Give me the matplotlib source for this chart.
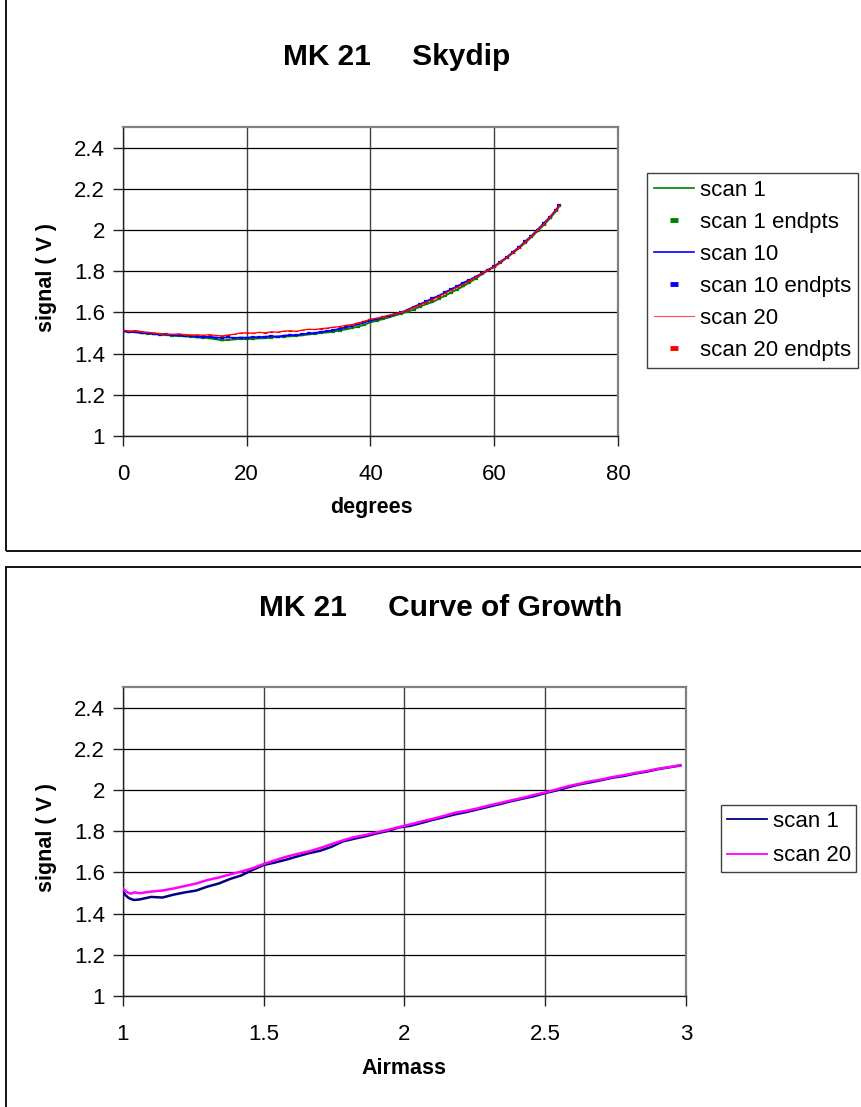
import matplotlib
matplotlib.use("Agg")
import matplotlib.pyplot as plt
from matplotlib.patches import Rectangle
from matplotlib.lines import Line2D

plt.rcParams['font.family'] = ['Liberation Sans', 'DejaVu Sans']

# ---------------- data: Skydip ----------------
degrees = list(range(71)) + [70.5]

scan1 = [1.508, 1.504, 1.506, 1.499, 1.497, 1.494, 1.493, 1.490, 1.487, 1.485,
         1.484, 1.481, 1.479, 1.476, 1.474, 1.470, 1.464, 1.467, 1.469, 1.471,
         1.470, 1.472, 1.474, 1.475, 1.478, 1.480, 1.482, 1.484, 1.486, 1.489,
         1.493, 1.496, 1.500, 1.503, 1.507, 1.512, 1.518, 1.524, 1.531, 1.540,
         1.552, 1.559, 1.568, 1.576, 1.585, 1.594, 1.603, 1.614, 1.628, 1.640,
         1.650, 1.665, 1.680, 1.696, 1.711, 1.727, 1.745, 1.764, 1.785, 1.804,
         1.821, 1.842, 1.864, 1.888, 1.911, 1.938, 1.965, 1.994, 2.024, 2.056,
         2.092, 2.115]

scan10 = [1.511, 1.506, 1.504, 1.501, 1.499, 1.497, 1.492, 1.494, 1.489, 1.488,
          1.486, 1.487, 1.483, 1.481, 1.482, 1.478, 1.477, 1.479, 1.476, 1.478,
          1.477, 1.480, 1.479, 1.482, 1.484, 1.483, 1.487, 1.490, 1.489, 1.494,
          1.498, 1.500, 1.505, 1.509, 1.513, 1.521, 1.527, 1.535, 1.542, 1.551,
          1.561, 1.566, 1.576, 1.583, 1.592, 1.600, 1.613, 1.627, 1.640, 1.653,
          1.668, 1.680, 1.697, 1.712, 1.726, 1.744, 1.757, 1.774, 1.789, 1.807,
          1.823, 1.846, 1.867, 1.893, 1.916, 1.945, 1.971, 2.002, 2.033, 2.063,
          2.099, 2.120]

scan20 = [1.514, 1.509, 1.512, 1.507, 1.503, 1.500, 1.497, 1.495, 1.493, 1.496,
          1.492, 1.490, 1.491, 1.489, 1.492, 1.488, 1.486, 1.490, 1.494, 1.500,
          1.501, 1.499, 1.503, 1.501, 1.506, 1.504, 1.509, 1.511, 1.508, 1.514,
          1.518, 1.517, 1.521, 1.524, 1.528, 1.531, 1.537, 1.541, 1.549, 1.557,
          1.567, 1.572, 1.579, 1.586, 1.594, 1.601, 1.612, 1.624, 1.637, 1.650,
          1.662, 1.677, 1.692, 1.707, 1.722, 1.736, 1.754, 1.771, 1.790, 1.806,
          1.822, 1.844, 1.866, 1.890, 1.915, 1.942, 1.970, 2.000, 2.030, 2.062,
          2.097, 2.119]

skydip_labels = ['scan 1', 'scan 1 endpts', 'scan 10', 'scan 10 endpts',
                 'scan 20', 'scan 20 endpts']

# ---------------- data: Curve of Growth ----------------
airmass = [1.00, 1.01, 1.02, 1.03, 1.04, 1.06, 1.10, 1.14, 1.18, 1.22,
           1.26, 1.30, 1.34, 1.38, 1.42, 1.46, 1.50, 1.54, 1.58, 1.62,
           1.66, 1.70, 1.74, 1.78, 1.82, 1.86, 1.90, 1.94, 1.98, 2.02,
           2.06, 2.10, 2.14, 2.18, 2.22, 2.26, 2.30, 2.34, 2.38, 2.42,
           2.46, 2.50, 2.54, 2.58, 2.62, 2.66, 2.70, 2.74, 2.78, 2.82,
           2.86, 2.90, 2.94, 2.98]

cog_scan1 = [1.505, 1.488, 1.476, 1.470, 1.466, 1.469, 1.481, 1.478, 1.492, 1.503,
             1.512, 1.531, 1.546, 1.568, 1.585, 1.612, 1.636, 1.648, 1.662, 1.678,
             1.693, 1.705, 1.724, 1.750, 1.763, 1.775, 1.789, 1.801, 1.818, 1.826,
             1.840, 1.855, 1.868, 1.882, 1.893, 1.906, 1.919, 1.932, 1.946, 1.958,
             1.970, 1.985, 1.998, 2.013, 2.027, 2.037, 2.048, 2.060, 2.068, 2.080,
             2.089, 2.101, 2.110, 2.119]

cog_scan20 = [1.522, 1.508, 1.500, 1.497, 1.503, 1.499, 1.507, 1.512, 1.522, 1.534,
              1.546, 1.563, 1.575, 1.590, 1.604, 1.620, 1.641, 1.659, 1.676, 1.690,
              1.702, 1.718, 1.737, 1.755, 1.771, 1.781, 1.794, 1.806, 1.820, 1.833,
              1.847, 1.860, 1.874, 1.890, 1.899, 1.911, 1.925, 1.937, 1.950, 1.962,
              1.976, 1.988, 2.003, 2.018, 2.030, 2.042, 2.051, 2.063, 2.072, 2.083,
              2.092, 2.103, 2.111, 2.121]

cog_labels = ['scan 1', 'scan 20']

yticks = [1, 1.2, 1.4, 1.6, 1.8, 2, 2.2, 2.4]
ytick_labels = ['1', '1.2', '1.4', '1.6', '1.8', '2', '2.2', '2.4']

# ---------------- figure ----------------
W, H = 862, 1107
fig = plt.figure(figsize=(W / 100, H / 100), dpi=100)


def fx(px):
    return px / W


def fy(py):
    return 1 - py / H


# panel borders
fig.add_artist(Rectangle((fx(6), fy(551)), fx(870) - fx(6), fy(-5) - fy(551),
                         transform=fig.transFigure, fill=False,
                         edgecolor='black', linewidth=1.3))
fig.add_artist(Rectangle((fx(6), fy(1120)), fx(870) - fx(6), fy(567) - fy(1120),
                         transform=fig.transFigure, fill=False,
                         edgecolor='black', linewidth=1.3))

TICK_FS = 16
LEG_FS = 16
LAB_FS = 15.5


def style_axes(ax, xticks, xticklabels, xlim):
    ax.set_xlim(*xlim)
    ax.set_ylim(1, 2.5)
    ax.set_xticks(xticks)
    ax.set_xticklabels(xticklabels)
    ax.set_yticks(yticks)
    ax.set_yticklabels(ytick_labels)
    for s in ax.spines.values():
        s.set_color('#808080')
        s.set_linewidth(1.6)
    ax.spines['left'].set_color('#202020')
    ax.spines['left'].set_linewidth(1.0)
    ax.spines['bottom'].set_color('#202020')
    ax.spines['bottom'].set_linewidth(1.0)
    ax.tick_params(axis='both', direction='out', length=7, width=1,
                   color='#202020', labelsize=TICK_FS)
    ax.tick_params(axis='x', pad=13)
    ax.tick_params(axis='y', pad=6)
    ax.grid(True, axis='y', color='black', linewidth=0.9)
    ax.grid(True, axis='x', color='#404040', linewidth=1.0)
    ax.set_axisbelow(True)


# ---------------- top: Skydip ----------------
ax1 = fig.add_axes([fx(123), fy(436), fx(618) - fx(123), fy(127) - fy(436)])
style_axes(ax1, [0, 20, 40, 60, 80], ['0', '20', '40', '60', '80'], (0, 80))

colors_top = ['#008000', '#0000FF', '#FF0000']
series_top = [scan1, scan10, scan20]
handles = []
for i, (ys, c) in enumerate(zip(series_top, colors_top)):
    ax1.plot(degrees, ys, color=c, linewidth=1.3 if i < 2 else 0.9, zorder=3 + i,
             marker='_', markersize=3, markeredgewidth=1.6 if i < 2 else 0.8)
    handles.append(Line2D([], [], color=c, linewidth=1.2 if i < 2 else 0.8,
                          alpha=1 if i < 2 else 0.7))
    handles.append(Line2D([], [], color=c, linestyle='none', marker='_',
                          markersize=6, markeredgewidth=3.5))

fig.text(fx(397), fy(57), 'MK 21     Skydip', ha='center', va='center',
         fontsize=21.5, fontweight='bold')
fig.text(fx(47), fy(277), 'signal ( V )', ha='center', va='center',
         rotation=90, fontsize=LAB_FS, fontweight='bold')
fig.text(fx(371), fy(508), 'degrees', ha='center', va='center',
         fontsize=LAB_FS, fontweight='bold')

leg1 = fig.legend(handles, skydip_labels, loc='upper left',
                  bbox_to_anchor=(fx(647), fy(173)), bbox_transform=fig.transFigure,
                  fontsize=LEG_FS, frameon=True, fancybox=False, framealpha=1,
                  edgecolor='#404040', borderaxespad=0, handlelength=1.8,
                  handletextpad=0.27, labelspacing=0.5, borderpad=0.3)
leg1.get_frame().set_linewidth(1.0)

# ---------------- bottom: Curve of Growth ----------------
ax2 = fig.add_axes([fx(123), fy(996), fx(686) - fx(123), fy(687) - fy(996)])
style_axes(ax2, [1, 1.5, 2, 2.5, 3], ['1', '1.5', '2', '2.5', '3'], (1, 3))

colors_bot = ['#000080', '#FF00FF']
series_bot = [cog_scan1, cog_scan20]
handles2 = []
for ys, c in zip(series_bot, colors_bot):
    ax2.plot(airmass, ys, color=c, linewidth=1.8, zorder=3)
    handles2.append(Line2D([], [], color=c, linewidth=1.3))

fig.text(fx(441), fy(608), 'MK 21     Curve of Growth', ha='center', va='center',
         fontsize=21.5, fontweight='bold')
fig.text(fx(47), fy(837), 'signal ( V )', ha='center', va='center',
         rotation=90, fontsize=LAB_FS, fontweight='bold')
fig.text(fx(404), fy(1068), 'Airmass', ha='center', va='center',
         fontsize=LAB_FS, fontweight='bold')

leg2 = fig.legend(handles2, cog_labels, loc='upper left',
                  bbox_to_anchor=(fx(721), fy(805)), bbox_transform=fig.transFigure,
                  fontsize=LEG_FS, frameon=True, fancybox=False, framealpha=1,
                  edgecolor='#404040', borderaxespad=0, handlelength=1.8,
                  handletextpad=0.27, labelspacing=0.62, borderpad=0.25)
leg2.get_frame().set_linewidth(1.0)

fig.savefig('out.png', dpi=100)
